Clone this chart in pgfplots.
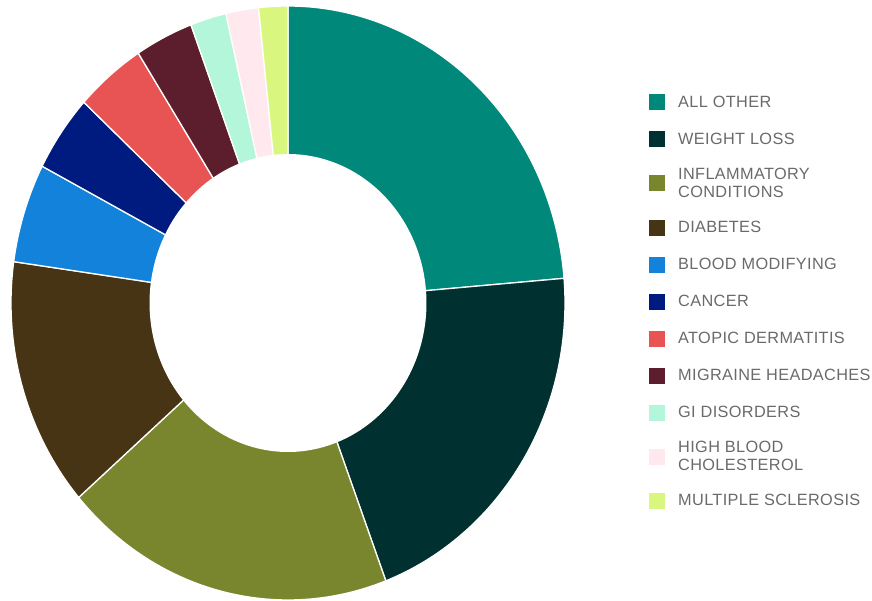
\documentclass[border=0pt]{standalone}
\usepackage{pgfplots}
\pgfplotsset{compat=1.18}
\usepackage{fontspec}
\setmainfont{Liberation Sans}
\newfontfamily\legfont[LetterSpace=2.2]{Liberation Sans}
\definecolor{cA}{HTML}{00897B}
\definecolor{cB}{HTML}{003030}
\definecolor{cC}{HTML}{7A862E}
\definecolor{cD}{HTML}{473414}
\definecolor{cE}{HTML}{1282DA}
\definecolor{cF}{HTML}{001B80}
\definecolor{cG}{HTML}{E85454}
\definecolor{cH}{HTML}{5C1E2C}
\definecolor{cI}{HTML}{B4F6DA}
\definecolor{cJ}{HTML}{FFE8EE}
\definecolor{cK}{HTML}{D9F77F}
\definecolor{legtext}{HTML}{6A6A6A}
% value / colour / label
\def\slicedata{23.7/cA/{ALL OTHER},20.6/cB/{WEIGHT LOSS},19.4/cC/{INFLAMMATORY\\CONDITIONS},13.6/cD/{DIABETES},5.4/cE/{BLOOD MODIFYING},4.2/cF/{CANCER},4.1/cG/{ATOPIC DERMATITIS},3.4/cH/{MIGRAINE HEADACHES},2.1/cI/{GI DISORDERS},1.9/cJ/{HIGH BLOOD\\CHOLESTEROL},1.7/cK/{MULTIPLE SCLEROSIS}}
\gdef\total{0}
\foreach \v/\c/\l in \slicedata {\pgfmathsetmacro\tmpt{\total+\v}\xdef\total{\tmpt}}
\def\cx{288}\def\cy{298}\def\rx{277}\def\ry{297}
\newcommand\slice[3]{%
  \pgfmathsetmacro\sa{\cum/\total*360}%
  \pgfmathsetmacro\cumnew{\cum+#1}%
  \xdef\cum{\cumnew}%
  \pgfmathsetmacro\sb{\cum/\total*360}%
  \edef\tmp{\noexpand\addplot[fill=#2, draw=white, line width=1.3pt, line join=round, domain=\sa:\sb, samples=80]
    ({\cx+\rx*sin(x)}, {\cy+\ry*cos(x)}) -- (axis cs:\cx,\cy) -- cycle;
    \noexpand\addlegendentry{\unexpanded\expandafter{#3}}}%
  \tmp
}
\begin{document}
\begin{tikzpicture}
\begin{axis}[
  width=872pt, height=601pt, scale only axis,
  xmin=0, xmax=872, ymin=0, ymax=601,
  hide axis, clip=false,
  legend cell align=left,
  legend image code/.code={\path[#1, draw=none] (0pt,-8pt) rectangle (16pt,8pt); \path[draw=none, fill=none] (16pt,0pt) -- (29pt,0pt);},
  legend style={at={(axis cs:649,507)}, anchor=north west, draw=none, fill=none,
    inner sep=0pt, row sep=21pt, text=legtext,
    font=\legfont\fontsize{16.3}{17.5}\selectfont,
    cells={anchor=west}, nodes={inner sep=0pt, align=left}},
]
\gdef\cum{0}
\foreach \v/\c/\l in \slicedata {\slice{\v}{\c}{\l}}
\addplot[fill=white, draw=none, domain=0:360, samples=180, forget plot]
  ({\cx+138.5*sin(x)}, {\cy+149*cos(x)}) -- cycle;
\end{axis}
\pgfresetboundingbox
\path (current axis.south west) rectangle (current axis.north east);
\end{tikzpicture}
\end{document}
